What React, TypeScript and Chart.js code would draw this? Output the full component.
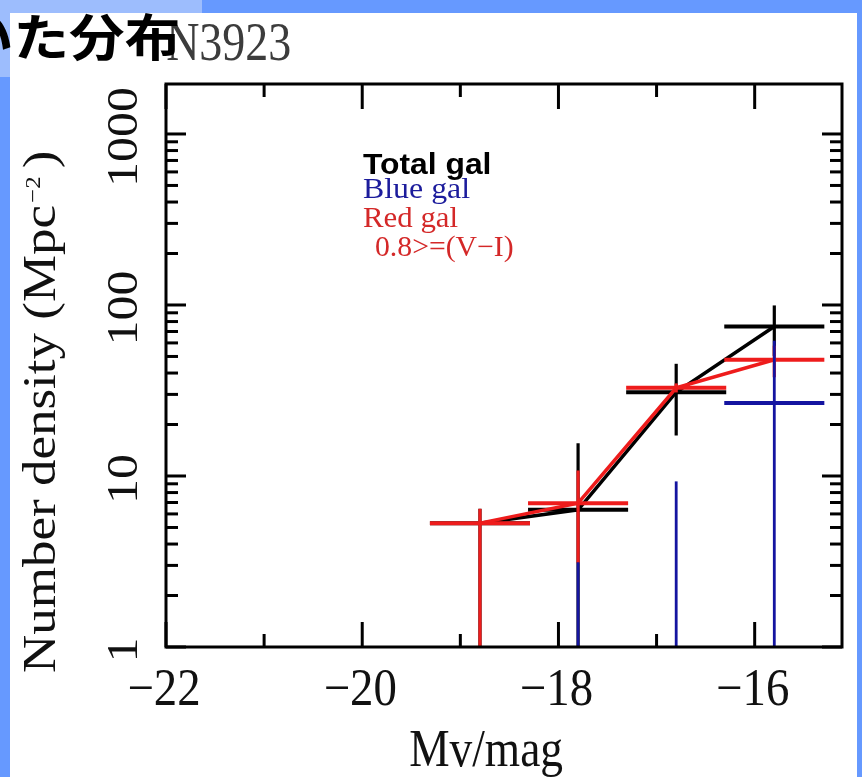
import React, { useEffect, useRef } from 'react';
import { Chart, registerables } from 'chart.js';

Chart.register(...registerables);

// ---- data ----
const binCenters = [-18.8, -17.8, -16.8, -15.8];
const binHalfWidth = 0.51;

const totalValues = [5.3, 6.34, 30.9, 74.9];
const totalErrUp = [1.13, 9.2, 14.4, 24.5];
const totalErrDown = [5.3, 9.2, 13.65, 24.5];

const redValues = [5.3, 6.93, 32.8, 47.8];
const redErrUp = [1.13, 3.84, 2, 10];
const redErrDown = [5.3, 3.84, 2, 10];

const blueValues = [0, -0.59, -2.0, 26.7];
const blueErrUp = [0, 3.72, 11.3, 35];
const blueErrDown = [0, 3.72, 11.3, 35];

const xTickValues = [-22, -20, -18, -16];
const xTickLabels = ['\u221222', '\u221220', '\u221218', '\u221216'];
const xMinorTickValues = [-21, -19, -17];
const yTickValues = [1, 10, 100, 1000];
const yTickLabels = ['1', '10', '100', '1000'];
const yMinorMultipliers = [2, 3, 4, 5, 6, 7, 8, 9];

const xMin = -22;
const xMax = -15.11;
const yMin = 1;
const yMax = 1960;

const legendLines = ['Total gal', 'Blue gal', 'Red gal', '0.8>=(V\u2212I)'];
const titleJa = 'いた分布';
const titleId = 'N3923';
const xTitle = 'Mv/mag';
const yTitleMain = 'Number density (Mpc';
const yTitleSup = '\u22122';
const yTitleEnd = ')';

const BLACK = '#000000';
const RED = '#ee1c1c';
const BLUE = '#1414a0';

const SERIES = [
  { values: blueValues, up: blueErrUp, down: blueErrDown, color: BLUE, vWidth: 2.8 },
  { values: redValues, up: redErrUp, down: redErrDown, color: RED, vWidth: 3.2 },
  { values: totalValues, up: totalErrUp, down: totalErrDown, color: BLACK, vWidth: 3.2 },
];

function fitText(ctx: CanvasRenderingContext2D, s: string, font: string, color: string, inkLeft: number, inkRight: number, baseline: number) {
  ctx.save();
  ctx.font = font;
  ctx.textAlign = 'left';
  ctx.textBaseline = 'alphabetic';
  const m = ctx.measureText(s);
  const ink = m.actualBoundingBoxLeft + m.actualBoundingBoxRight;
  const k = (inkRight - inkLeft) / ink;
  ctx.translate(inkLeft + m.actualBoundingBoxLeft * k, baseline);
  ctx.scale(k, 1);
  ctx.fillStyle = color;
  ctx.fillText(s, 0, 0);
  ctx.restore();
}

const chartPlugin = {
  id: 'customDraw',
  beforeDraw(chart: any) {
    const ctx: CanvasRenderingContext2D = chart.ctx;
    ctx.save();
    ctx.fillStyle = '#6699ff';
    ctx.fillRect(0, 0, chart.width, chart.height);
    ctx.fillStyle = '#9dbdfd';
    ctx.fillRect(0, 0, 202, 13);
    ctx.fillRect(0, 0, 10, 77);
    ctx.fillStyle = '#ffffff';
    ctx.fillRect(10, 13, 847, chart.height - 13);
    ctx.restore();
  },
  afterDatasetDraw(chart: any, args: any) {
    const s = SERIES[args.index];
    if (!s) return;
    const ctx: CanvasRenderingContext2D = chart.ctx;
    const xs = chart.scales.x;
    const ys = chart.scales.y;
    const { left, right, top, bottom } = chart.chartArea;
    ctx.save();
    ctx.beginPath();
    ctx.rect(left, top, right - left, bottom - top);
    ctx.clip();
    ctx.strokeStyle = s.color;
    ctx.lineCap = 'butt';
    binCenters.forEach((c, i) => {
      const v = s.values[i];
      const hi = v + s.up[i];
      const lo = v - s.down[i];
      const xc = xs.getPixelForValue(c);
      if (hi > yMin && hi > lo) {
        const yt = ys.getPixelForValue(Math.min(hi, yMax));
        const yb = lo > yMin ? ys.getPixelForValue(lo) : bottom;
        ctx.lineWidth = s.vWidth;
        ctx.beginPath();
        ctx.moveTo(xc, yt);
        ctx.lineTo(xc, yb);
        ctx.stroke();
      }
      if (v > yMin && v < yMax) {
        const py = ys.getPixelForValue(v);
        ctx.lineWidth = 4;
        ctx.beginPath();
        ctx.moveTo(xs.getPixelForValue(c - binHalfWidth), py);
        ctx.lineTo(xs.getPixelForValue(c + binHalfWidth), py);
        ctx.stroke();
      }
    });
    ctx.restore();
  },
  afterDraw(chart: any) {
    const ctx: CanvasRenderingContext2D = chart.ctx;
    const xs = chart.scales.x;
    const ys = chart.scales.y;
    const { left, right, top, bottom } = chart.chartArea;
    ctx.save();
    ctx.strokeStyle = '#000';
    ctx.lineWidth = 3;
    ctx.lineCap = 'butt';
    const seg = (x1: number, y1: number, x2: number, y2: number) => {
      ctx.beginPath();
      ctx.moveTo(x1, y1);
      ctx.lineTo(x2, y2);
      ctx.stroke();
    };
    xTickValues.forEach((v) => {
      const px = xs.getPixelForValue(v);
      seg(px, bottom, px, bottom - 25);
      seg(px, top, px, top + 25);
    });
    xMinorTickValues.forEach((v) => {
      const px = xs.getPixelForValue(v);
      seg(px, bottom, px, bottom - 13);
      seg(px, top, px, top + 13);
    });
    yTickValues.forEach((d) => {
      const py = ys.getPixelForValue(d);
      seg(left, py, left + 20, py);
      seg(right, py, right - 20, py);
      yMinorMultipliers.forEach((m) => {
        const v = d * m;
        if (v >= yMax) return;
        const pm = ys.getPixelForValue(v);
        seg(left, pm, left + 12, pm);
        seg(right, pm, right - 12, pm);
      });
    });
    ctx.lineJoin = 'miter';
    ctx.strokeRect(left, top, right - left, bottom - top);
    ctx.restore();

    // x tick labels
    xTickValues.forEach((v, i) => {
      const px = xs.getPixelForValue(v);
      ctx.save();
      ctx.translate(px - 2, 705);
      ctx.scale(0.9, 1);
      ctx.font = '52px "Liberation Serif"';
      ctx.fillStyle = '#111';
      ctx.textAlign = 'center';
      ctx.textBaseline = 'alphabetic';
      ctx.fillText(xTickLabels[i], 0, 0);
      ctx.restore();
    });

    // y tick labels (rotated)
    yTickValues.forEach((v, i) => {
      const py = ys.getPixelForValue(v);
      ctx.save();
      ctx.translate(137, py + 3);
      ctx.scale(0.9, 1);
      ctx.rotate(-Math.PI / 2);
      ctx.font = '50px "Liberation Serif"';
      ctx.fillStyle = '#111';
      ctx.textAlign = 'center';
      ctx.textBaseline = 'alphabetic';
      ctx.fillText(yTickLabels[i], 0, 0);
      ctx.restore();
    });

    // y title
    ctx.save();
    ctx.translate(55, 673);
    ctx.scale(0.88, 1);
    ctx.rotate(-Math.PI / 2);
    ctx.fillStyle = '#111';
    ctx.textAlign = 'left';
    ctx.textBaseline = 'alphabetic';
    ctx.font = '53px "Liberation Serif"';
    ctx.fillText(yTitleMain, 0, 0);
    let w = ctx.measureText(yTitleMain).width;
    ctx.font = '25px "Liberation Serif"';
    ctx.fillText(yTitleSup, w + 2, -17);
    w += 2 + ctx.measureText(yTitleSup).width;
    ctx.font = '53px "Liberation Serif"';
    ctx.fillText(yTitleEnd, w + 8, 0);
    ctx.restore();

    // x title
    fitText(ctx, xTitle, '52px "Liberation Serif"', '#111', 410, 563, 766);

    // legend texts
    fitText(ctx, legendLines[0], 'bold 30px "Liberation Sans"', '#000', 363, 490, 174);
    fitText(ctx, legendLines[1], '29px "Liberation Serif"', '#1c1c9c', 363, 470, 198);
    fitText(ctx, legendLines[2], '29px "Liberation Serif"', '#d42828', 363, 458, 227);
    fitText(ctx, legendLines[3], '29px "Liberation Serif"', '#d42828', 376, 513, 256);

    // title id
    fitText(ctx, titleId, '55px "Liberation Serif"', '#3c3c3c', 167, 290, 60);

    // Japanese title (cut off at the left edge)
    ctx.save();
    ctx.font = 'bold 50px "Noto Sans CJK JP"';
    ctx.textAlign = 'left';
    ctx.textBaseline = 'alphabetic';
    const part = ctx.measureText(titleJa.slice(1));
    const k = (178 - 18) / (part.actualBoundingBoxLeft + part.actualBoundingBoxRight);
    const full = ctx.measureText(titleJa);
    const x0 = 178 - full.actualBoundingBoxRight * k;
    const base = 62 - full.actualBoundingBoxDescent;
    ctx.translate(x0, base);
    ctx.scale(k, 1);
    ctx.fillStyle = '#000';
    ctx.fillText(titleJa, 0, 0);
    ctx.restore();
  },
};

export default function App() {
  const canvasRef = useRef<HTMLCanvasElement | null>(null);

  useEffect(() => {
    const canvas = canvasRef.current;
    if (!canvas) return;
    const toPoints = (vals: number[]) =>
      binCenters.map((x, i) => ({ x, y: vals[i] > 0 ? vals[i] : null }));
    const chart = new Chart(canvas, {
      type: 'scatter',
      data: {
        datasets: [
          { label: legendLines[1], data: toPoints(blueValues), borderColor: BLUE, backgroundColor: BLUE, borderWidth: 3.5, showLine: true, pointRadius: 0 },
          { label: legendLines[2], data: toPoints(redValues), borderColor: RED, backgroundColor: RED, borderWidth: 3.5, showLine: true, pointRadius: 0 },
          { label: legendLines[0], data: toPoints(totalValues), borderColor: BLACK, backgroundColor: BLACK, borderWidth: 3.5, showLine: true, pointRadius: 0 },
        ],
      },
      options: {
        responsive: false,
        animation: false,
        events: [],
        layout: { padding: { left: 166, right: 20, top: 84, bottom: 130 } },
        plugins: { legend: { display: false }, tooltip: { enabled: false } },
        scales: {
          x: { type: 'linear', min: xMin, max: xMax, display: false },
          y: { type: 'logarithmic', min: yMin, max: yMax, display: false },
        },
      } as any,
      plugins: [chartPlugin as any],
    });
    return () => chart.destroy();
  }, []);

  return (
    <div style={{ position: 'fixed', left: 0, top: 0, width: 862, height: 777, overflow: 'hidden' }}>
      <canvas ref={canvasRef} width={862} height={777} style={{ display: 'block', width: 862, height: 777 }} />
    </div>
  );
}
